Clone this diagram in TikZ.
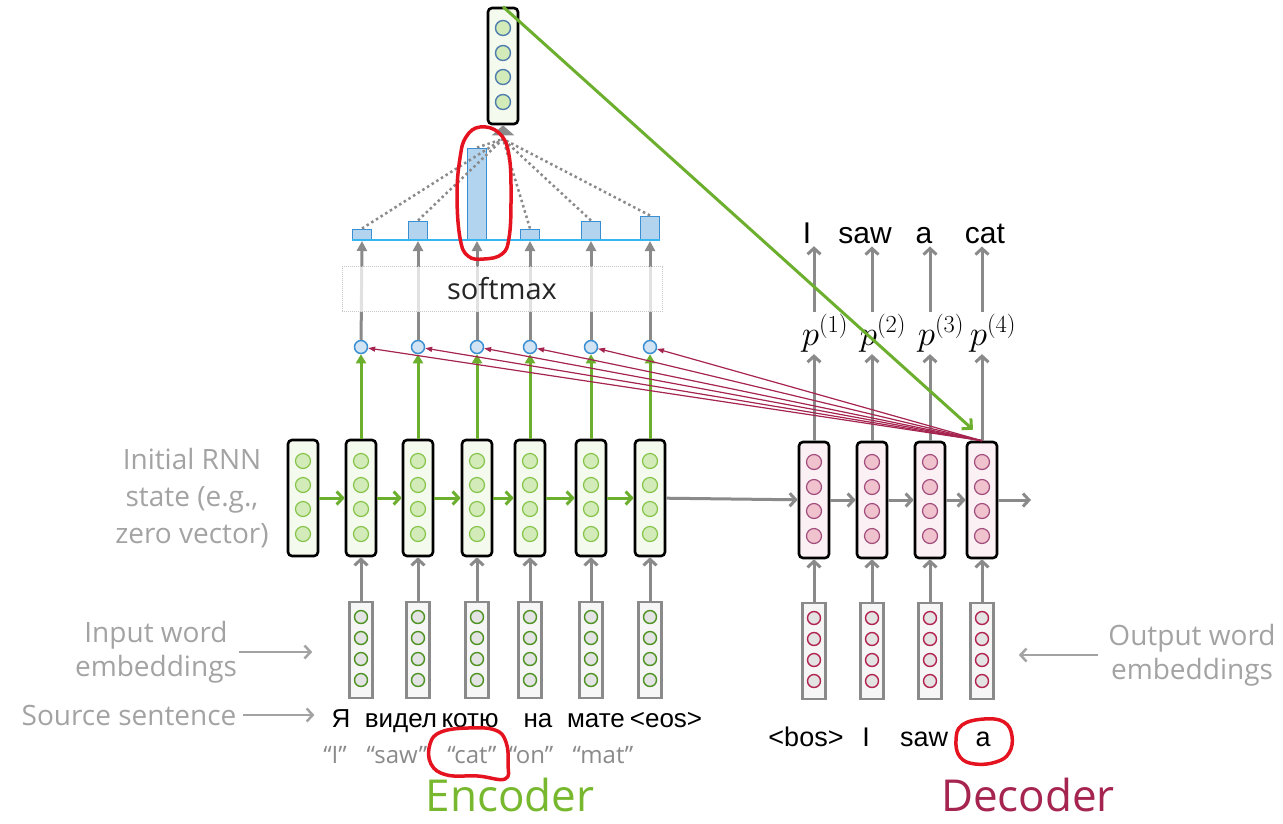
\RequirePackage{fix-cm}
\documentclass[tikz,border=0pt]{standalone}
\usepackage{fontspec}
\setmainfont{Open Sans}
\newfontfamily\handfont{Liberation Sans}
\usetikzlibrary{arrows.meta,calc,positioning}

\definecolor{encgreen}{HTML}{6CAE2D}
\definecolor{enctext}{HTML}{77B82F}
\definecolor{decred}{HTML}{A52450}
\definecolor{flowgray}{HTML}{8A8A8A}
\definecolor{notegray}{HTML}{A3A3A3}
\definecolor{encbg}{HTML}{F4FAEE}
\definecolor{encdot}{HTML}{D3EBB8}
\definecolor{encring}{HTML}{86C44A}
\definecolor{decbg}{HTML}{FBF0F3}
\definecolor{decdot}{HTML}{F0C2CE}
\definecolor{decring}{HTML}{A24C7C}
\definecolor{embbg}{HTML}{F6F6F6}
\definecolor{embdot}{HTML}{E3E3E3}
\definecolor{embgreen}{HTML}{4E9222}
\definecolor{embred}{HTML}{B22450}
\definecolor{attline}{HTML}{3A8FD3}
\definecolor{attfill}{HTML}{B3D4EE}
\definecolor{attbase}{HTML}{35B6F2}
\definecolor{scorefill}{HTML}{D2E4F4}
\definecolor{ctxring}{HTML}{4F7DAE}
\definecolor{markred}{HTML}{E5121F}

\tikzset{
  rnncell/.style={draw=black,line width=2.6pt,rounded corners=4pt,minimum width=30pt,minimum height=116pt,inner sep=0pt},
  cellunit/.style={circle,line width=1.2pt,minimum size=15pt,inner sep=0pt},
  emb/.style={draw=flowgray,line width=2.6pt,fill=embbg,minimum width=23pt,minimum height=96pt,inner sep=0pt},
  embunit/.style={circle,line width=1.4pt,fill=embdot,minimum size=13pt,inner sep=0pt},
  score/.style={circle,draw=attline,line width=1.5pt,fill=scorefill,minimum size=13pt,inner sep=0pt},
  attbar/.style={draw=attline,line width=1.5pt,fill=attfill,minimum width=19pt,inner sep=0pt,anchor=south},
  flow/.style={draw=flowgray,line width=3pt,-{Straight Barb[length=6pt,width=13pt]}},
  upflow/.style={draw=flowgray,line width=3pt,shorten >=1pt,-{Triangle[length=10pt,width=10pt]}},
  recur/.style={draw=encgreen,line width=3pt,-{Straight Barb[length=6pt,width=13pt]}},
  toscore/.style={draw=encgreen,line width=3pt,-{Triangle[length=9pt,width=10pt]}},
  query/.style={draw=decred,line width=1.2pt,-{Triangle[length=7pt,width=5pt]}},
  weight/.style={draw=flowgray,line width=2.5pt,dash pattern=on 2.5pt off 3pt},
  notearrow/.style={draw=notegray,line width=2.5pt,-{Straight Barb[length=6pt,width=13pt]}},
  note/.style={text=notegray,font=\fontsize{28}{34}\selectfont,align=center,inner sep=2pt},
  word/.style={font=\handfont\fontsize{26}{30}\selectfont,inner sep=3pt},
  gloss/.style={text=flowgray,font=\fontsize{24}{28}\selectfont,inner sep=2pt},
  prob/.style={font=\fontsize{35}{40}\selectfont,inner sep=2pt},
  title/.style={font=\fontsize{44}{50}\selectfont,anchor=base,inner sep=0pt},
  handmark/.style={draw=markred,line width=3.5pt,line join=round}
}

\begin{document}
\begin{tikzpicture}[x=1pt,y=-1pt]
  \useasboundingbox (0,0) rectangle (1283,823);

  % attention weights over the source positions
  \foreach \n/\x/\h in {1/362/10,2/418/18,3/477/91,4/530/10,5/591/18,6/650/23}
    \node[attbar,minimum height=\h] (b\n) at (\x,240) {};

  % encoder: initial state, then one step per source token
  \foreach \n/\x in {0/303,1/361,2/418,3/477,4/530,5/591,6/650} {
    \node[rnncell,fill=encbg] (h\n) at (\x,498) {};
    \foreach \y in {461,485,509,534}
      \node[cellunit,draw=encring,fill=encdot] at (\x,\y) {};
  }
  \foreach \n/\x in {1/361,2/418,3/477,4/530,5/591,6/650} {
    \node[emb] (x\n) at (\x,650) {};
    \foreach \y in {617,638,659,680}
      \node[embunit,draw=embgreen] at (\x,\y) {};
    \node[score] (s\n) at (\x,347) {};
    \draw[flow] (x\n) -- (h\n);
    \draw[toscore] (h\n) -- (s\n);
    \draw[upflow] (s\n) -- (b\n.south);
  }
  \foreach \i [count=\j from 1] in {0,...,5}
    \draw[recur] (h\i) -- (h\j);

  \node[draw=black!22,dash pattern=on 1pt off 1pt,line width=1pt,fill=white,fill opacity=0.75,text opacity=1,
        minimum width=320pt,minimum height=45pt,font=\fontsize{29}{34}\selectfont,text=black!85] (soft) at (502,289) {softmax};
  \draw[attbase,line width=1.5pt] (b1.south west) -- (b6.south east);

  % decoder
  \foreach \n/\x in {1/814,2/872,3/930,4/982} {
    \node[rnncell,fill=decbg] (d\n) at (\x,500) {};
    \foreach \y in {462,487,511,536}
      \node[cellunit,draw=decring,fill=decdot] at (\x,\y) {};
    \node[emb] (y\n) at (\x,651) {};
    \foreach \y in {618,639,660,681}
      \node[embunit,draw=embred] at (\x,\y) {};
    \draw[flow] (y\n) -- (d\n);
  }
  \draw[flow] (h6) -- (d1);
  \foreach \i [count=\j from 2] in {1,2,3}
    \draw[flow] (d\i) -- (d\j);
  \coordinate (next) at (1031,500);
  \draw[flow] (d4) -- (next);

  \foreach \n/\x/\w/\wx in {1/814/I/807,2/872/saw/865,3/930/a/924,4/982/cat/985} {
    \node[prob] (p\n) at (\x+11,333) {$p^{(\n)}$};
    \node[word,font=\handfont\fontsize{30}{34}\selectfont,anchor=base] (o\n) at (\wx,243) {\w};
    \draw[flow] (d\n) -- (d\n |- p\n.south);
    \draw[flow] (d\n |- p\n.north) -- (d\n |- o\n.south);
  }

  % decoder state queries every encoder state
  \foreach \n in {1,...,6}
    \draw[query] (d4.north) -- (s\n);

  % context vector
  \node[rnncell,fill=encbg] (ctx) at (503,66) {};
  \foreach \y in {28,53,77,102}
    \node[cellunit,draw=ctxring,fill=encdot,line width=1.4pt] at (503,\y) {};
  \coordinate (merge) at (503,139);
  \foreach \n in {1,...,6}
    \draw[weight] (b\n.north) -- (merge);
  \draw[draw=flowgray,line width=2pt,-{Triangle[length=10pt,width=22pt]}] (merge) -- (ctx);
  \draw[encgreen,line width=3pt,-{Straight Barb[length=7pt,width=14pt]}] (ctx.north) -- ([shift={(-9pt,11pt)}]d4.north);

  % tokens
  \foreach \n/\x/\w in {0/341/Я,1/401/видел,2/470/котю,3/538/на,4/596/мате,5/666/<eos>}
    \node[word,anchor=base] (w\n) at (\x,727) {\w};
  \foreach \n/\x/\w in {1/335/“I”,2/397/“saw”,3/472/“cat”,4/531/“on”,5/603/“mat”}
    \node[gloss,anchor=base] (g\n) at (\x,763) {\w};
  \foreach \n/\x/\w in {1/806/<bos>,2/866/I,3/924/saw,4/983/a}
    \node[word,font=\handfont\fontsize{27}{32}\selectfont,anchor=base] (u\n) at (\x,746) {\w};

  % side labels
  \node[note,font=\fontsize{28}{37}\selectfont] (initlbl) at (192,498) {Initial RNN\\state (e.g.,\\zero vector)};
  \node[note] (inlbl) at (156,652) {Input word\\embeddings};
  \node[note,anchor=base] (srclbl) at (129,725) {Source sentence};
  \node[note] (outlbl) at (1192,655) {Output word\\embeddings};
  \draw[notearrow,shorten >=36pt] (inlbl.east) -- (inlbl.east -| x1.west);
  \draw[notearrow,shorten <=4pt,shorten >=14pt] (srclbl.east) -- (srclbl.east -| w0.west);
  \draw[notearrow,shorten <=8pt,shorten >=24pt] (outlbl.west) -- (outlbl.west -| y4.east);

  \node[title,text=enctext] (enclbl) at (510,811) {Encoder};
  \node[title,text=decred] (declbl) at (1028,811) {Decoder};

  % hand-drawn marks
  \draw[handmark] plot[smooth cycle,tension=0.7] coordinates
    {(480,127) (499,133) (509,155) (511,200) (509,238) (502,254) (484,259) (468,256) (460,238) (457,195) (460,158) (466,137)};
  \draw[handmark] plot[smooth cycle,tension=0.7] coordinates
    {(468,728) (495,730) (506,742) (508,764) (505,779) (478,776) (447,775) (431,764) (430,744) (441,732)};
  \draw[handmark] plot[smooth cycle,tension=0.7] coordinates
    {(984,719) (1004,722) (1012,736) (1009,753) (996,762) (975,764) (960,757) (956,740) (962,725)};
\end{tikzpicture}
\end{document}
